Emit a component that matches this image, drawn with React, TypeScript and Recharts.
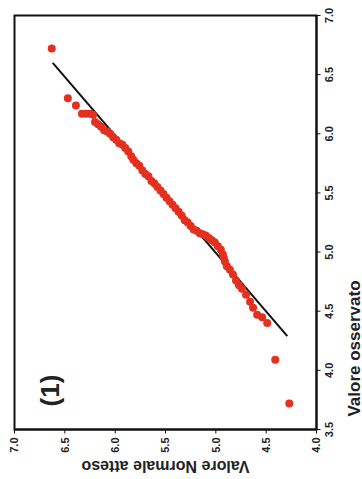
import { ScatterChart, Scatter, XAxis, YAxis, ReferenceLine, ReferenceArea } from 'recharts';

// Q-Q plot, drawn in its own orientation and then turned 90deg counter-clockwise like the scan
const observed = [
  3.72, 4.09, 4.40, 4.45, 4.47, 4.53, 4.58, 4.64, 4.69, 4.72,
  4.76, 4.81, 4.85, 4.88, 4.92, 4.95, 4.98, 5.02, 5.05, 5.08,
  5.10, 5.12, 5.14, 5.15, 5.16, 5.18, 5.19, 5.22, 5.25, 5.27,
  5.31, 5.34, 5.37, 5.40, 5.43, 5.46, 5.49, 5.52, 5.55, 5.58,
  5.60, 5.64, 5.66, 5.69, 5.73, 5.75, 5.78, 5.81, 5.85, 5.88,
  5.91, 5.92, 5.95, 5.97, 6.00, 6.02, 6.03, 6.06, 6.08, 6.10,
  6.16, 6.17, 6.17, 6.17, 6.24, 6.30, 6.72,
];
const expected = [
  4.27, 4.41, 4.49, 4.54, 4.59, 4.63, 4.66, 4.70, 4.74, 4.77,
  4.80, 4.83, 4.86, 4.89, 4.91, 4.92, 4.93, 4.95, 4.98, 5.01,
  5.04, 5.07, 5.10, 5.13, 5.16, 5.19, 5.22, 5.25, 5.28, 5.31,
  5.34, 5.37, 5.40, 5.43, 5.46, 5.49, 5.52, 5.55, 5.58, 5.61,
  5.64, 5.67, 5.70, 5.73, 5.76, 5.79, 5.82, 5.84, 5.87, 5.90,
  5.93, 5.96, 5.99, 6.02, 6.05, 6.08, 6.11, 6.14, 6.17, 6.20,
  6.22, 6.25, 6.29, 6.33, 6.39, 6.47, 6.63,
];
const fitLine = [
  { x: 4.29, y: 4.29 },
  { x: 6.60, y: 6.62 },
];
const xTicks = [3.5, 4.0, 4.5, 5.0, 5.5, 6.0, 6.5, 7.0];
const yTicks = [4.0, 4.5, 5.0, 5.5, 6.0, 6.5, 7.0];

const points = observed.map((x, i) => ({ x, y: expected[i] }));

const font = '"Liberation Sans", Arial, sans-serif';
const tickStyle = { fontSize: 11, fontWeight: 'bold', fill: '#222', fontFamily: font };

const Dot = (props: any) => <circle cx={props.cx} cy={props.cy} r={4} fill="#e3301f" />;

export default function App() {
  return (
    <div
      style={{
        position: 'absolute',
        left: -58.5,
        top: 58.5,
        width: 479,
        height: 362,
        transform: 'rotate(-90deg)',
        background: '#fff',
        fontFamily: font,
      }}
    >
      <ScatterChart width={479} height={362} margin={{ top: 14, right: 15, bottom: 0, left: 0 }}>
        <XAxis
          type="number"
          dataKey="x"
          domain={[3.5, 7]}
          ticks={xTicks}
          tickFormatter={(v) => v.toFixed(1)}
          height={46}
          tickSize={4}
          tickMargin={5}
          tick={tickStyle}
          axisLine={{ stroke: '#111', strokeWidth: 2 }}
          tickLine={{ stroke: '#111' }}
        />
        <YAxis
          type="number"
          dataKey="y"
          domain={[4, 7]}
          ticks={yTicks}
          tickFormatter={(v) => v.toFixed(1)}
          width={50}
          tickSize={4}
          tickMargin={4}
          tick={tickStyle}
          axisLine={{ stroke: '#111', strokeWidth: 2 }}
          tickLine={{ stroke: '#111' }}
        />
        <ReferenceArea x1={3.5} x2={7} y1={4} y2={7} fill="none" stroke="#111" strokeWidth={2} />
        <ReferenceLine segment={fitLine} stroke="#111" strokeWidth={2} />
        <Scatter data={points} shape={Dot} isAnimationActive={false} />
      </ScatterChart>

      <div
        style={{
          position: 'absolute',
          left: 14,
          top: 165,
          transform: 'translate(-50%, -50%) rotate(-90deg)',
          whiteSpace: 'nowrap',
          fontSize: 16,
          fontWeight: 'bold',
          color: '#222',
        }}
      >
        Valore Normale atteso
      </div>
      <div
        style={{
          position: 'absolute',
          left: 131,
          top: 354,
          transform: 'translate(-50%, -50%)',
          whiteSpace: 'nowrap',
          fontSize: 17,
          fontWeight: 'bold',
          color: '#222',
        }}
      >
        Valore osservato
      </div>
      <div
        style={{
          position: 'absolute',
          left: 89,
          top: 50,
          transform: 'translate(-50%, -50%)',
          fontSize: 26,
          fontWeight: 'bold',
          color: '#222',
        }}
      >
        (1)
      </div>
    </div>
  );
}
